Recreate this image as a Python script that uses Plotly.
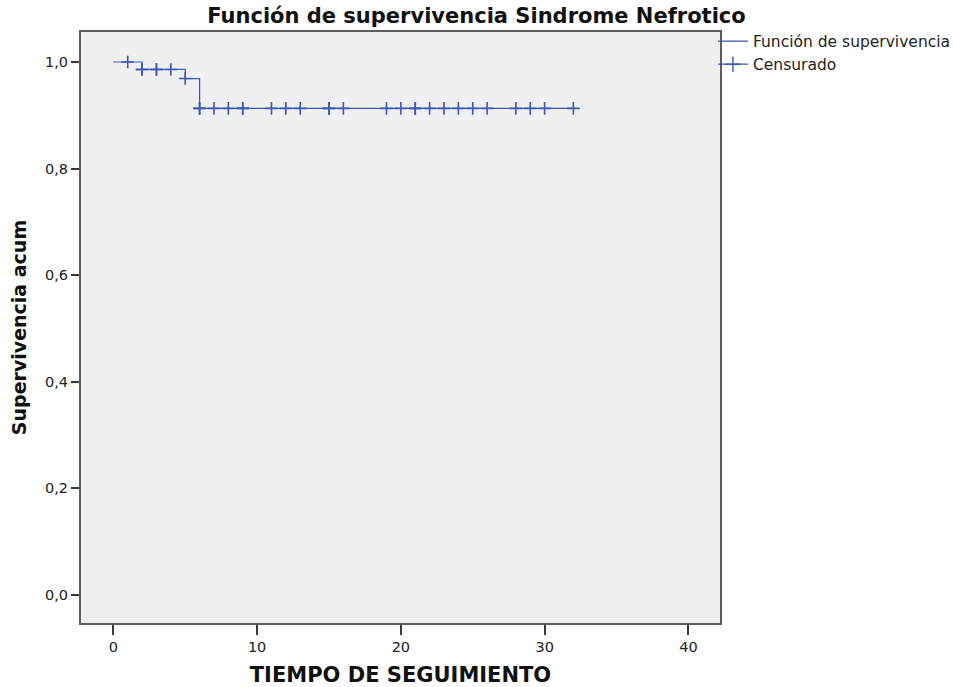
import plotly.graph_objects as go

# Kaplan-Meier estimate: step times and cumulative survival after each step
step_time = [0, 2, 5, 6, 32]
step_surv = [1.0, 0.986, 0.969, 0.913, 0.913]

# Censored observations (time, survival level at that time)
cens_time = [1, 2, 2, 3, 3, 4, 5, 6, 6, 7, 8, 9, 9, 11, 12, 13, 15, 15, 16,
             19, 20, 21, 21, 22, 23, 24, 25, 26, 28, 29, 30, 32]
cens_surv = [1.0, 0.986, 0.986, 0.986, 0.986, 0.986, 0.969] + [0.913] * 25

x_ticks = [0, 10, 20, 30, 40]
y_ticks = [0.0, 0.2, 0.4, 0.6, 0.8, 1.0]

BLUE = "#3b58b2"
FONT = "DejaVu Sans, Verdana, sans-serif"

fig = go.Figure()

fig.add_trace(go.Scatter(
    x=step_time, y=step_surv, mode="lines", line_shape="hv",
    line=dict(color=BLUE, width=1.2),
    name="Función de supervivencia",
))

fig.add_trace(go.Scatter(
    x=cens_time, y=cens_surv, mode="markers",
    marker=dict(symbol="cross-thin", size=9, line=dict(color=BLUE, width=1.6)),
    showlegend=False, hoverinfo="x+y",
))

# legend entry for censored marks (line through cross)
fig.add_trace(go.Scatter(
    x=[None], y=[None], mode="lines+markers",
    line=dict(color=BLUE, width=1.2),
    marker=dict(symbol="cross-thin", size=11, line=dict(color=BLUE, width=1.4)),
    name="Censurado",
))

axis_common = dict(
    showgrid=False, zeroline=False, automargin=False,
    showline=True, mirror=True, linecolor="#5e5e5e", linewidth=2,
    ticks="outside", tickwidth=2, tickcolor="#3a3a3a",
    tickfont=dict(family=FONT, size=14.5, color="#222222"),
)

fig.update_layout(
    width=953, height=687,
    margin=dict(l=81, r=233, t=32, b=64, autoexpand=False),
    paper_bgcolor="white", plot_bgcolor="#f0f0f0",
    separators=",.",
    title=dict(text="<b>Función de supervivencia Sindrome Nefrotico</b>",
               x=0.5, xref="container", xanchor="center",
               y=1 - 16 / 687, yref="container", yanchor="middle",
               font=dict(family=FONT, size=21, color="#111111")),
    xaxis=dict(range=[-2.25, 42.2], tickvals=x_ticks, ticklen=10,
               title=dict(text="<b>TIEMPO DE SEGUIMIENTO</b>", standoff=14,
                          font=dict(family=FONT, size=21, color="#111111")),
               **axis_common),
    yaxis=dict(range=[-0.0525, 1.0563], tickvals=y_ticks, tickformat=".1f",
               ticklen=8,
               title=dict(text="<b>Supervivencia acum</b>", standoff=13,
                          font=dict(family=FONT, size=19, color="#111111")),
               **axis_common),
    legend=dict(x=0.989, xanchor="left", y=1.0127, yanchor="top",
                bgcolor="rgba(0,0,0,0)", itemwidth=30,
                font=dict(family=FONT, size=15.5, color="#222222")),
    showlegend=True,
)

fig.write_html("out.html")
